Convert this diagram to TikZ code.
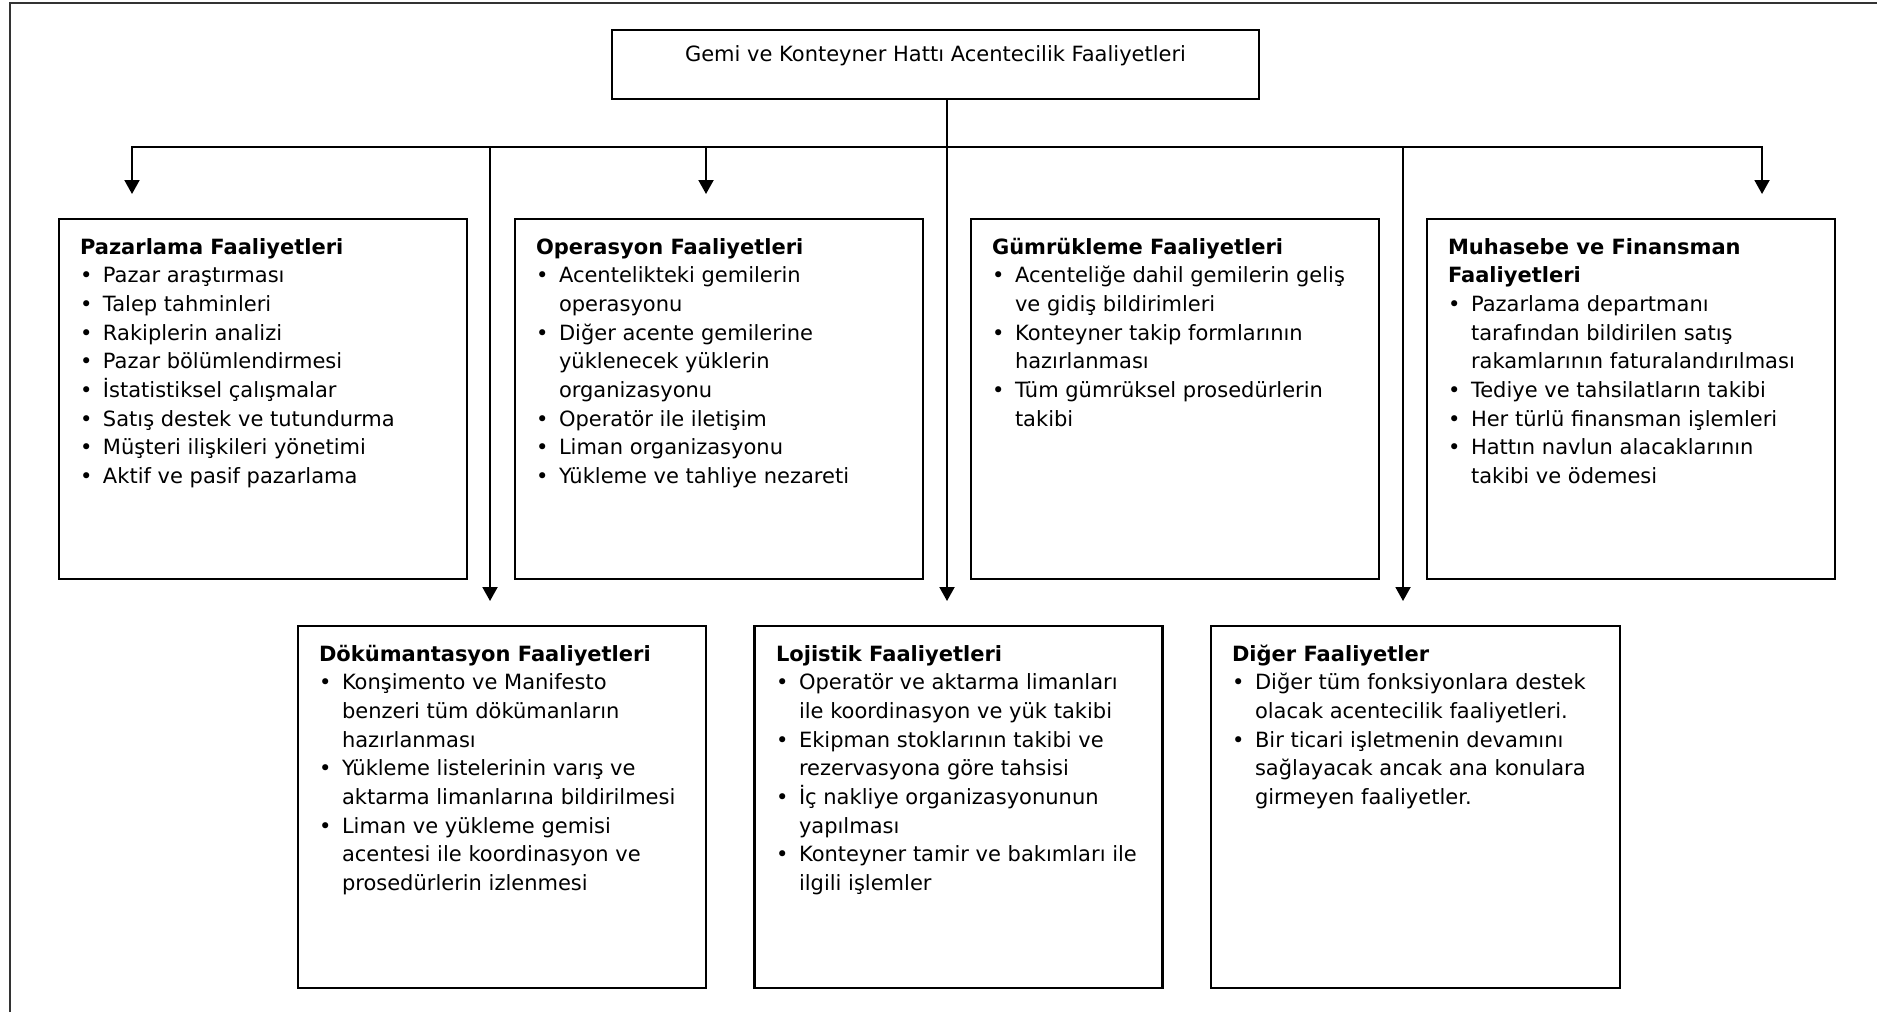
\documentclass[tikz,border=0pt]{standalone}
\usepackage{fontspec}
\setmainfont{DejaVu Sans}
\usetikzlibrary{arrows.meta}

% bullet with hanging indent, and the indent of continuation lines
\newcommand\bi{\makebox[11.5pt][l]{\textbullet}}
\newcommand\ci{\hspace*{11.5pt}}

\begin{document}
\begin{tikzpicture}[x=0.5pt,y=-0.5pt,
  every node/.style={inner sep=0pt, outer sep=0pt},
  bodyfont/.style={font=\fontsize{10.5}{14.35}\selectfont},
  panel/.style={draw, line width=1.3pt, minimum width=204pt},
  rowone/.style={panel, minimum height=180pt},
  rowtwo/.style={panel, minimum height=181pt},
  listtext/.style={bodyfont, anchor=base west},
  link/.style={line width=1pt},
  arr/.style={link, -{Triangle[width=7.5pt,length=7pt]}},
  frame/.style={line width=1pt, black!80}
]
\useasboundingbox (0,0) rectangle (1877,1012);

% outer frame (only its left and top sides fall on the page)
\draw[frame] (9.5,1012) -- (9.5,2.5) -- (1877,2.5);

% root
\node[draw, line width=1.3pt, minimum width=323.5pt, minimum height=34.5pt] (top) at (935.5,64.5) {};
\node[bodyfont, anchor=base] (toptext) at (935.5,61) {Gemi ve Konteyner Hattı Acentecilik Faaliyetleri};

% first row of panels
\node[rowone] (b1) at (263,399) {};
\node[rowone] (b2) at (719,399) {};
\node[rowone] (b3) at (1175,399) {};
\node[rowone] (b4) at (1631,399) {};

% second row of panels
\node[rowtwo] (b5) at (502,807) {};
\node[rowtwo] (b6) at (958.5,807) {};
\node[rowtwo, minimum width=204.5pt] (b7) at (1415.5,807) {};

% panel texts
\node[listtext] (b1t) at (80,254) {\parbox[t]{200pt}{%
\textbf{Pazarlama Faaliyetleri}\\
\bi Pazar araştırması\\
\bi Talep tahminleri\\
\bi Rakiplerin analizi\\
\bi Pazar bölümlendirmesi\\
\bi İstatistiksel çalışmalar\\
\bi Satış destek ve tutundurma\\
\bi Müşteri ilişkileri yönetimi\\
\bi Aktif ve pasif pazarlama}};

\node[listtext] (b2t) at (536,254) {\parbox[t]{200pt}{%
\textbf{Operasyon Faaliyetleri}\\
\bi Acentelikteki gemilerin\\
\ci operasyonu\\
\bi Diğer acente gemilerine\\
\ci yüklenecek yüklerin\\
\ci organizasyonu\\
\bi Operatör ile iletişim\\
\bi Liman organizasyonu\\
\bi Yükleme ve tahliye nezareti}};

\node[listtext] (b3t) at (992,254) {\parbox[t]{200pt}{%
\textbf{Gümrükleme Faaliyetleri}\\
\bi Acenteliğe dahil gemilerin geliş\\
\ci ve gidiş bildirimleri\\
\bi Konteyner takip formlarının\\
\ci hazırlanması\\
\bi Tüm gümrüksel prosedürlerin\\
\ci takibi}};

\node[listtext] (b4t) at (1448,254) {\parbox[t]{200pt}{%
\textbf{Muhasebe ve Finansman}\\
\textbf{Faaliyetleri}\\
\bi Pazarlama departmanı\\
\ci tarafından bildirilen satış\\
\ci rakamlarının faturalandırılması\\
\bi Tediye ve tahsilatların takibi\\
\bi Her türlü finansman işlemleri\\
\bi Hattın navlun alacaklarının\\
\ci takibi ve ödemesi}};

\node[listtext] (b5t) at (319,661) {\parbox[t]{200pt}{%
\textbf{Dökümantasyon Faaliyetleri}\\
\bi Konşimento ve Manifesto\\
\ci benzeri tüm dökümanların\\
\ci hazırlanması\\
\bi Yükleme listelerinin varış ve\\
\ci aktarma limanlarına bildirilmesi\\
\bi Liman ve yükleme gemisi\\
\ci acentesi ile koordinasyon ve\\
\ci prosedürlerin izlenmesi}};

\node[listtext] (b6t) at (776,661) {\parbox[t]{200pt}{%
\textbf{Lojistik Faaliyetleri}\\
\bi Operatör ve aktarma limanları\\
\ci ile koordinasyon ve yük takibi\\
\bi Ekipman stoklarının takibi ve\\
\ci rezervasyona göre tahsisi\\
\bi İç nakliye organizasyonunun\\
\ci yapılması\\
\bi Konteyner tamir ve bakımları ile\\
\ci ilgili işlemler}};

\node[listtext] (b7t) at (1232,661) {\parbox[t]{200pt}{%
\textbf{Diğer Faaliyetler}\\
\bi Diğer tüm fonksiyonlara destek\\
\ci olacak acentecilik faaliyetleri.\\
\bi Bir ticari işletmenin devamını\\
\ci sağlayacak ancak ana konulara\\
\ci girmeyen faaliyetler.}};

% branching point under the root, and arrow tips above the panels
\coordinate (hub) at (947,147);
\coordinate (t1) at (132,194);
\coordinate (t2) at (706,194);
\coordinate (t4) at (1762,194);
\coordinate (t5) at (490,601);
\coordinate (t6) at (947,601);
\coordinate (t7) at (1403,601);

% connectors
\draw[link] (top.south -| hub) -- (hub);
\draw[arr] (hub) -| (t1);
\draw[arr] (hub) -| (t2);
\draw[arr] (hub) -| (t4);
\draw[arr] (hub) -| (t5);
\draw[arr] (hub) -- (t6);
\draw[arr] (hub) -| (t7);
\end{tikzpicture}
\end{document}
